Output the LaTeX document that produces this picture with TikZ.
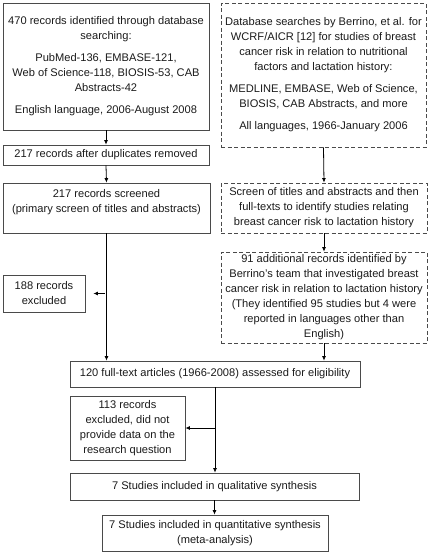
\documentclass[tikz,border=0pt]{standalone}
\usepackage{fontspec}
\setmainfont{Liberation Sans}
\usetikzlibrary{arrows.meta}
\definecolor{edge}{HTML}{4A4A4A}
\definecolor{ink}{HTML}{1A1A1A}
\tikzset{
  box/.style={draw=edge, line width=0.8pt, rectangle, inner sep=1pt, align=center,
    text=ink, font=\fontsize{11.1}{15}\selectfont},
  dbox/.style={box, dash pattern=on 4pt off 2.5pt},
  arr/.style={draw=black, line width=0.8pt, -{Latex[length=4.5pt,width=4pt]}},
  ln/.style={draw=black, line width=0.8pt}
}
\begin{document}
\begin{tikzpicture}[x=1pt,y=-1pt]
\useasboundingbox (0,0) rectangle (430,555);
\node[box, minimum width=206pt, minimum height=127pt] (b1) at (106,66.5)
  {470 records identified through database\\ searching:\\[7pt]
   PubMed-136, EMBASE-121,\\ Web of Science-118, BIOSIS-53, CAB\\ Abstracts-42\\[7pt]
   English language, 2006-August 2008};
\node[dbox, minimum width=205pt, minimum height=144pt] (d1) at (323.5,75)
  {Database searches by Berrino, et al. for\\ WCRF/AICR [12] for studies of breast\\
   cancer risk in relation to nutritional\\ factors and lactation history:\\[7pt]
   MEDLINE, EMBASE, Web of Science,\\ BIOSIS, CAB Abstracts, and more\\[7pt]
   All languages, 1966-January 2006};
\node[box, minimum width=206pt, minimum height=20pt] (b2) at (106,155)
  {217 records after duplicates removed};
\node[box, minimum width=207pt, minimum height=50pt] (b3) at (106.5,208)
  {217 records screened\\ (primary screen of titles and abstracts)\\ \mbox{}};
\node[dbox, minimum width=206pt, minimum height=50pt] (d2) at (324,208)
  {Screen of titles and abstracts and then\\ full-texts to identify studies relating\\
   breast cancer risk to lactation history};
\node[dbox, minimum width=206pt, minimum height=91pt] (d3) at (324,297.5)
  {91 additional records identified by\\ Berrino's team that investigated breast\\
   cancer risk in relation to lactation history\\ (They identified 95 studies but 4 were\\
   reported in languages other than\\ English)};
\node[box, minimum width=82pt, minimum height=37pt] (b188) at (44,293.5)
  {188 records\\ excluded};
\node[box, minimum width=290pt, minimum height=26pt] (b120) at (215,374)
  {120 full-text articles (1966-2008) assessed for eligibility};
\node[box, minimum width=115pt, minimum height=64pt] (b113) at (127.5,428)
  {113 records\\ excluded, did not\\ provide data on the\\ research question};
\node[box, minimum width=289pt, minimum height=27pt] (bq1) at (214.5,486.5)
  {7 Studies included in qualitative synthesis};
\node[box, minimum width=226pt, minimum height=36pt] (bq2) at (215,533)
  {7 Studies included in quantitative synthesis\\ (meta-analysis)};

\draw[arr] (b1.south) -- (b2.north);
\draw[arr] (b2.south) -- (b3.north);
\draw[arr] (d1.south) -- (d2.north);
\draw[arr] (d2.south) -- (d3.north);
\draw[arr] (b3.south) -- (b3.south |- b120.north);
\draw[arr] ([xshift=-2pt]b3.south |- b188.east) -- ([xshift=8pt]b188.east);
\draw[arr] (d3.south) -- (d3.south |- b120.north);
\draw[arr] (b120.south) -- (b120.south |- bq1.north);
\draw[arr] (b120.south |- b113.east) -- (b113.east);
\draw[arr] (bq1.south) -- (bq1.south |- bq2.north);
\end{tikzpicture}
\end{document}
